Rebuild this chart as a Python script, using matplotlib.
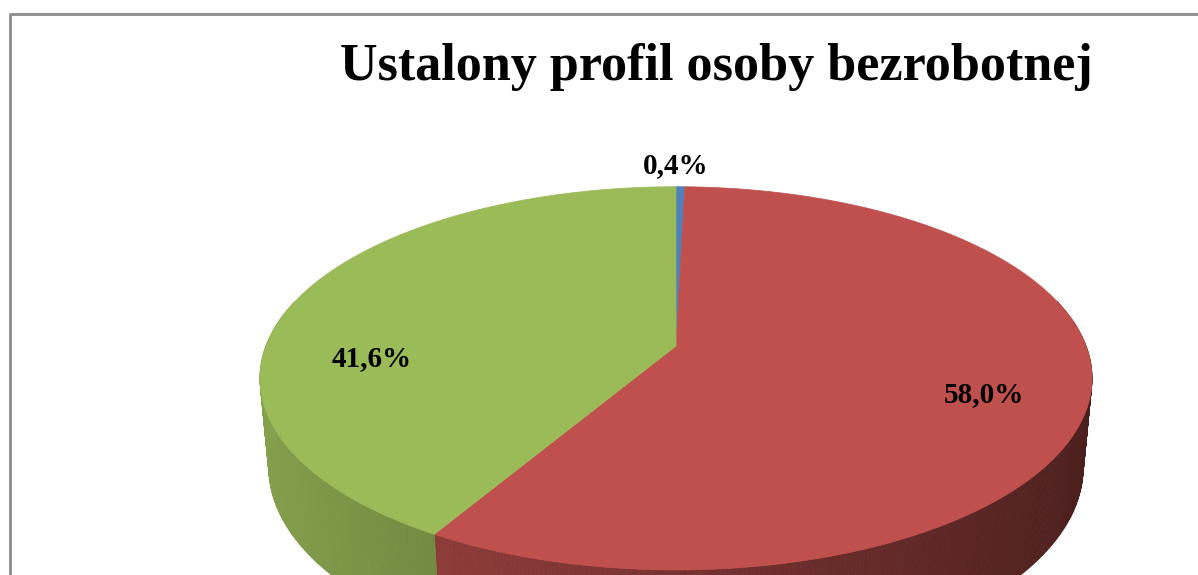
import numpy as np
import matplotlib.pyplot as plt
from matplotlib.patches import Polygon

# data
title = "Ustalony profil osoby bezrobotnej"
shares = [0.4, 58.0, 41.6]
labels = ["0,4%", "58,0%", "41,6%"]
colors = ["#4f81bd", "#c0504d", "#9bbb59"]

# label anchor points (pixels)
label_pos = [(676, 166), (984, 395), (372, 359)]

# simple perspective camera for the 3d pie
CX, CY = 676, 346
F, K = 2165, 5.28
ELEV = np.radians(27.0)
H = 0.245
sa, ca = np.sin(ELEV), np.cos(ELEV)


def proj(phi, r=1.0, y=0.0):
    X = r * np.sin(phi)
    Z = r * np.cos(phi)
    yc = Z * sa + y * ca
    w = K + Z * ca - y * sa
    return CX + F * X / w, CY - F * yc / w


def shade(c, phi):
    rgb = np.array(plt.matplotlib.colors.to_rgb(c))
    f = 0.62 - 0.24 * np.sin(phi)
    return tuple(np.clip(rgb * f, 0, 1))


fig = plt.figure(figsize=(11.98, 5.75), dpi=100)
ax = fig.add_axes([0, 0, 1, 1])
ax.set_xlim(0, 1198)
ax.set_ylim(575, 0)
ax.axis("off")

# chart border (right and bottom are cut off)
ax.plot([10, 10, 1210], [600, 14, 14], color="#8c8c8c", lw=2, zorder=1)

edges = np.cumsum([0] + shares) / 100 * 2 * np.pi

# side walls
for i in range(len(shares)):
    a0, a1 = edges[i], edges[i + 1]
    n = max(2, int((a1 - a0) / np.radians(0.5)))
    t = np.linspace(a0, a1, n + 1)
    for j in range(n):
        p0, p1 = t[j], t[j + 1]
        if np.cos((p0 + p1) / 2) > 0.25:
            continue
        pts = [proj(p0), proj(p1), proj(p1, y=-H), proj(p0, y=-H)]
        c = shade(colors[i], (p0 + p1) / 2)
        ax.add_patch(Polygon(pts, closed=True, fc=c, ec=c, lw=0.6, zorder=2))

# top faces
for i in range(len(shares)):
    a0, a1 = edges[i], edges[i + 1]
    t = np.linspace(a0, a1, max(3, int((a1 - a0) / np.radians(0.5))))
    pts = [proj(0, 0)] + [proj(p) for p in t]
    ax.add_patch(Polygon(pts, closed=True, fc=colors[i], ec=colors[i], lw=0.5, zorder=3))

for lab, (x, y) in zip(labels, label_pos):
    ax.text(x, y, lab, ha="center", va="center", fontsize=21, fontweight="bold",
            family="Liberation Serif", color="black", zorder=4)

ax.text(716, 67, title, ha="center", va="center", fontsize=37.5, fontweight="bold",
        family="Liberation Serif", color="black", zorder=4)

fig.savefig("out.png", dpi=100)
